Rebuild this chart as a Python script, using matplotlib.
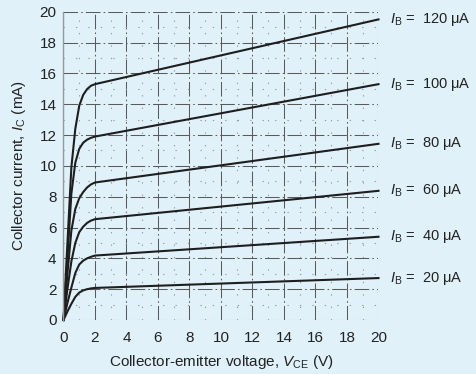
import matplotlib
matplotlib.use("Agg")
import matplotlib.pyplot as plt
import numpy as np

plt.rcParams['font.family'] = ['Liberation Sans', 'DejaVu Sans']
plt.rcParams['mathtext.fontset'] = 'custom'
plt.rcParams['mathtext.rm'] = 'Liberation Sans'
plt.rcParams['mathtext.it'] = 'Liberation Sans:italic'

# Data
vce = [0, 0.25, 0.5, 0.75, 1.0, 1.25, 1.5, 1.75, 2.0, 20]
ib_labels = [20, 40, 60, 80, 100, 120]
ic_20 = [0, 0.55, 1.05, 1.5, 1.78, 1.92, 2.0, 2.05, 2.08, 2.72]
ic_40 = [0, 1.1, 2.1, 3.05, 3.6, 3.85, 4.0, 4.1, 4.18, 5.4]
ic_60 = [0, 2.0, 3.8, 5.0, 5.7, 6.05, 6.3, 6.45, 6.54, 8.38]
ic_80 = [0, 3.0, 5.8, 7.2, 7.9, 8.3, 8.6, 8.8, 8.92, 11.43]
ic_100 = [0, 4.0, 8.2, 10.2, 11.1, 11.5, 11.7, 11.82, 11.9, 15.3]
ic_120 = [0, 5.0, 9.9, 12.4, 13.9, 14.6, 14.98, 15.2, 15.3, 19.5]
curves = [ic_20, ic_40, ic_60, ic_80, ic_100, ic_120]
x_ticks = [0, 2, 4, 6, 8, 10, 12, 14, 16, 18, 20]
y_ticks = [0, 2, 4, 6, 8, 10, 12, 14, 16, 18, 20]

bg = '#e0f1fa'
fig = plt.figure(figsize=(4.77, 3.74), dpi=100, facecolor=bg)
ax = fig.add_axes([0.1331, 0.1444, 0.6604, 0.8243], facecolor=bg)

ax.set_xlim(0, 20)
ax.set_ylim(0, 20)
ax.set_xticks(x_ticks)
ax.set_yticks(y_ticks)
ax.set_xticks(np.arange(1, 20, 2), minor=True)
ax.set_yticks(np.arange(1, 20, 2), minor=True)
ax.tick_params(which='both', length=0)
ax.tick_params(axis='x', pad=8, labelsize=11, colors='#222222')
ax.tick_params(axis='y', pad=5, labelsize=11, colors='#222222')

ax.grid(which='major', color='#5a5a5a', linestyle=(0, (14, 3, 1.5, 3)), linewidth=0.75)
ax.grid(which='minor', color='#9a9a9a', linestyle=(0, (1.2, 10)), linewidth=0.8)
ax.set_axisbelow(True)

for s in ['top', 'right', 'bottom']:
    ax.spines[s].set_visible(False)
ax.spines['left'].set_color('#999999')
ax.spines['left'].set_linewidth(1.0)

for ib, ic in zip(ib_labels, curves):
    ax.plot(vce, ic, color='#1e1e1e', linewidth=1.5, solid_joinstyle='round', clip_on=False)
    ax.annotate(r'$I_\mathrm{B}$ =  %d μA' % ib, xy=(20, ic[-1]), xytext=(8, 0),
                textcoords='offset points', fontsize=10.5, color='#222222',
                va='center', ha='left', annotation_clip=False)

ax.set_xlabel(r'Collector-emitter voltage, $V_\mathrm{CE}$ (V)', fontsize=11, color='#222222', labelpad=6)
ax.set_ylabel(r'Collector current, $I_\mathrm{C}$ (mA)', fontsize=11, color='#222222', labelpad=8)

fig.savefig('out.png', dpi=100, facecolor=bg)
